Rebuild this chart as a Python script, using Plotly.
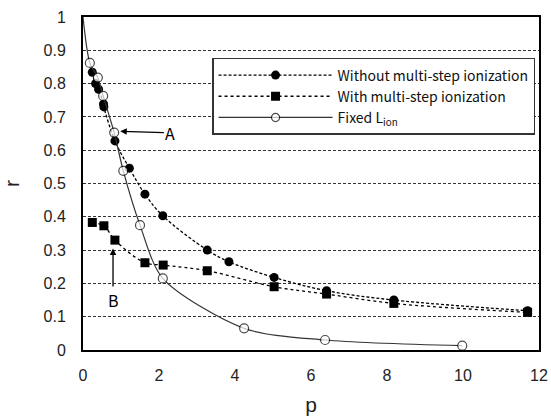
import plotly.graph_objects as go

# Data
p_without = [0.245, 0.33, 0.41, 0.54, 0.55, 0.84, 1.22, 1.63, 2.10, 3.27, 3.84, 5.03, 6.41, 8.18, 11.7]
r_without = [0.834, 0.80, 0.783, 0.739, 0.73, 0.628, 0.546, 0.468, 0.403, 0.300, 0.265, 0.218, 0.178, 0.150, 0.118]

p_with = [0.245, 0.55, 0.84, 1.63, 2.11, 3.27, 5.03, 6.41, 8.18, 11.7]
r_with = [0.383, 0.373, 0.330, 0.262, 0.255, 0.238, 0.190, 0.168, 0.140, 0.113]

p_fixed = [0.0, 0.18, 0.39, 0.53, 0.82, 1.06, 1.50, 2.10, 4.24, 6.37, 9.98]
r_fixed = [1.0, 0.862, 0.818, 0.763, 0.653, 0.538, 0.375, 0.215, 0.065, 0.030, 0.013]
fixed_marker_sizes = [0] + [9] * (len(p_fixed) - 1)

x_ticks = [0, 2, 4, 6, 8, 10, 12]
y_ticks = [0, 0.1, 0.2, 0.3, 0.4, 0.5, 0.6, 0.7, 0.8, 0.9, 1]
y_tick_labels = ["0", "0.1", "0.2", "0.3", "0.4", "0.5", "0.6", "0.7", "0.8", "0.9", "1"]

fig = go.Figure()

fig.add_trace(go.Scatter(
    x=p_without, y=r_without, mode="lines+markers",
    name="Without multi-step ionization",
    line=dict(color="black", width=1.3, dash="3px,2px", shape="spline"),
    marker=dict(symbol="circle", size=9, color="black"),
))
fig.add_trace(go.Scatter(
    x=p_with, y=r_with, mode="lines+markers",
    name="With multi-step ionization",
    line=dict(color="black", width=1.3, dash="dot", shape="spline"),
    marker=dict(symbol="square", size=9, color="black"),
))
fig.add_trace(go.Scatter(
    x=p_fixed, y=r_fixed, mode="lines+markers",
    name="Fixed L<sub>ion</sub>",
    line=dict(color="#333333", width=1.2, shape="spline", smoothing=0.8),
    marker=dict(symbol="circle", size=fixed_marker_sizes, color="white",
                line=dict(color="black", width=1.2)),
))

fig.update_layout(
    width=551, height=418,
    margin=dict(l=83, r=12, t=17, b=68, autoexpand=False),
    paper_bgcolor="white", plot_bgcolor="white",
    font=dict(family="Liberation Sans, Arial, sans-serif", color="#222222"),
    showlegend=True,
    legend=dict(
        x=0.283, y=0.877, xanchor="left", yanchor="top",
        bgcolor="white", bordercolor="#333333", borderwidth=1.5,
        font=dict(family="Noto Sans CJK JP, sans-serif", size=14, color="#111111"),
        itemwidth=114, tracegroupgap=0,
    ),
    xaxis=dict(
        range=[0, 12], tickvals=x_ticks, ticks="", showgrid=False,
        showline=True, linecolor="black", linewidth=2, mirror=True,
        tickfont=dict(size=16), zeroline=False, ticklabelstandoff=10,
        automargin=False,
        title=dict(text="p", font=dict(size=21), standoff=14),
    ),
    yaxis=dict(
        range=[0, 1], tickvals=y_ticks, ticktext=y_tick_labels, ticks="",
        showgrid=True, gridcolor="#333333", griddash="3px,2px", gridwidth=1,
        showline=True, linecolor="black", linewidth=2, mirror=True,
        tickfont=dict(size=16), zeroline=False, ticklabelstandoff=12,
        automargin=False,
        title=dict(text="r", font=dict(size=21), standoff=18),
    ),
)

# Annotation A (arrow pointing left to the open circle)
fig.add_annotation(x=0.98, y=0.657, ax=2.3, ay=0.652, xref="x", yref="y",
                   axref="x", ayref="y", text="A", showarrow=True,
                   arrowhead=2, arrowsize=1, arrowwidth=1.3, arrowcolor="black",
                   font=dict(family="Noto Sans CJK JP, sans-serif", size=16, color="black"))
# Annotation B (arrow pointing up)
fig.add_annotation(x=0.79, y=0.305, ax=0.79, ay=0.15, xref="x", yref="y",
                   axref="x", ayref="y", text="B", showarrow=True,
                   arrowhead=2, arrowsize=1, arrowwidth=1.3, arrowcolor="black",
                   font=dict(family="Noto Sans CJK JP, sans-serif", size=16, color="black"))

fig.write_html("out.html")
